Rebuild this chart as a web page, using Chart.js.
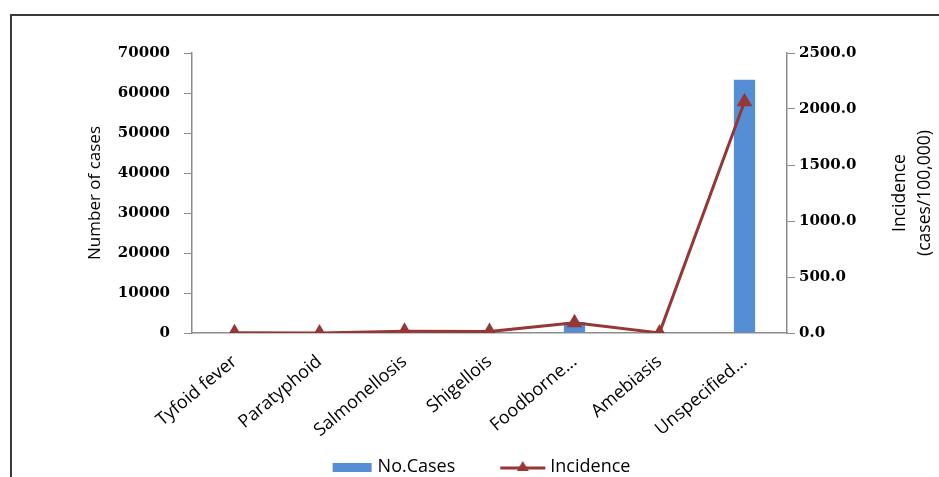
<!DOCTYPE html>
<html>
<head>
<meta charset="utf-8">
<script src="https://cdn.jsdelivr.net/npm/chart.js@4.4.1/dist/chart.umd.min.js"></script>
<style>
  html, body { margin: 0; padding: 0; background: #fff; overflow: hidden; }
  #wrap { position: relative; width: 939px; height: 477px; }
  #frame {
    position: absolute; left: 10px; top: 14px; right: -5px; bottom: -5px;
    border-top: 2px solid #3a3a3a; border-left: 2px solid #3a3a3a;
    pointer-events: none;
  }
  canvas { position: absolute; left: 0; top: 0; }
</style>
</head>
<body>
<div id="wrap">
  <canvas id="chart" width="939" height="477"></canvas>
  <div id="frame"></div>
</div>
<script>
// disease categories and the two series
const diseases = ['Tyfoid fever', 'Paratyphoid', 'Salmonellosis', 'Shigellois', 'Foodborne...', 'Amebiasis', 'Unspecified...'];
const cases = [120, 40, 500, 420, 2700, 40, 63300];
const incidence = [3, 1, 15, 13, 92, 1, 2065];
const casesTicks = [0, 10000, 20000, 30000, 40000, 50000, 60000, 70000];
const incidenceTicks = [0, 500, 1000, 1500, 2000, 2500];

const BAR_COLOR = '#558ed5';
const LINE_COLOR = '#953735';
const AXIS_COLOR = '#8c8c8c';
const SANS = "'Open Sans', sans-serif";
const SERIF = "'DejaVu Serif', serif";

// legend swatches: wide transparent canvases drawn centred on the legend box,
// so the visible mark can sit close to its text
const SW_BOX = 78;
function swatch(drawFn) {
  const c = document.createElement('canvas');
  c.width = 160; c.height = 14;
  drawFn(c.getContext('2d'));
  return c;
}
const barSwatch = swatch(ctx => {
  ctx.fillStyle = BAR_COLOR;
  ctx.fillRect(83, 3, 39, 9);
});
const lineSwatch = swatch(ctx => {
  ctx.strokeStyle = LINE_COLOR;
  ctx.lineWidth = 3;
  ctx.beginPath(); ctx.moveTo(78, 8); ctx.lineTo(123, 8); ctx.stroke();
  ctx.fillStyle = LINE_COLOR;
  ctx.beginPath(); ctx.moveTo(100.5, 1); ctx.lineTo(106.5, 11); ctx.lineTo(94.5, 11); ctx.closePath(); ctx.fill();
});

// right axis title reads bottom-to-top, so draw it by hand
const rightTitle = {
  id: 'rightTitle',
  afterDraw(chart) {
    const { ctx, chartArea } = chart;
    const cy = (chartArea.top + chartArea.bottom) / 2;
    ctx.save();
    ctx.fillStyle = '#000';
    ctx.font = '17.5px ' + SANS;
    ctx.textAlign = 'center';
    ctx.textBaseline = 'middle';
    [['Incidence', chartArea.right + 113], ['(cases/100,000)', chartArea.right + 138]].forEach(([txt, x]) => {
      ctx.save();
      ctx.translate(x, cy);
      ctx.rotate(-Math.PI / 2);
      ctx.fillText(txt, 0, 0);
      ctx.restore();
    });
    ctx.restore();
  }
};

new Chart(document.getElementById('chart'), {
  data: {
    labels: diseases,
    datasets: [
      {
        type: 'line',
        label: 'Incidence',
        data: incidence,
        yAxisID: 'y1',
        borderColor: LINE_COLOR,
        backgroundColor: LINE_COLOR,
        borderWidth: 3,
        pointStyle: 'triangle',
        pointRadius: 6,
        pointBackgroundColor: LINE_COLOR,
        pointBorderColor: LINE_COLOR,
        tension: 0,
        order: 1
      },
      {
        type: 'bar',
        label: 'No.Cases',
        data: cases,
        yAxisID: 'y',
        backgroundColor: BAR_COLOR,
        categoryPercentage: 1,
        barPercentage: 0.25,
        order: 2
      }
    ]
  },
  options: {
    responsive: false,
    animation: false,
    layout: { padding: { left: 0, right: 18, top: 53, bottom: -9 } },
    plugins: {
      tooltip: { enabled: false },
      legend: {
        position: 'bottom',
        reverse: true,
        labels: {
          usePointStyle: true,
          pointStyleWidth: SW_BOX,
          padding: 8,
          color: '#000',
          font: { family: SANS, size: 18 },
          generateLabels(chart) {
            return chart.data.datasets.map((ds, i) => ({
              text: ds.label,
              pointStyle: ds.type === 'bar' ? barSwatch : lineSwatch,
              fontColor: '#000',
              hidden: false,
              datasetIndex: i
            }));
          }
        }
      }
    },
    scales: {
      x: {
        offset: true,
        grid: { display: false },
        border: { display: true, color: AXIS_COLOR, width: 1.5 },
        ticks: {
          color: '#000',
          minRotation: 40,
          maxRotation: 40,
          padding: 10,
          autoSkip: false,
          font: { family: SANS, size: 18 }
        },
        afterFit(scale) { scale.height = 117; }
      },
      y: {
        position: 'left',
        min: 0,
        max: 70000,
        afterBuildTicks(scale) { scale.ticks = casesTicks.map(v => ({ value: v })); },
        grid: { drawOnChartArea: false, drawTicks: true, tickLength: 8, color: AXIS_COLOR },
        border: { display: true, color: AXIS_COLOR, width: 1.5 },
        ticks: {
          color: '#000',
          padding: 14,
          font: { family: SERIF, size: 15, weight: 'bold' },
          callback: v => String(v)
        },
        title: {
          display: true,
          text: 'Number of cases',
          color: '#000',
          font: { family: SANS, size: 17 },
          padding: { top: 85, bottom: 0 }
        },
        afterFit(scale) { scale.width = 192; }
      },
      y1: {
        position: 'right',
        min: 0,
        max: 2500,
        afterBuildTicks(scale) { scale.ticks = incidenceTicks.map(v => ({ value: v })); },
        grid: { drawOnChartArea: false, drawTicks: true, tickLength: 8, color: AXIS_COLOR },
        border: { display: true, color: AXIS_COLOR, width: 1.5 },
        ticks: {
          color: '#000',
          padding: 4,
          font: { family: SERIF, size: 15, weight: 'bold' },
          callback: v => v.toFixed(1)
        },
        afterFit(scale) { scale.width = 134; }
      }
    }
  },
  plugins: [rightTitle]
});
</script>
</body>
</html>
